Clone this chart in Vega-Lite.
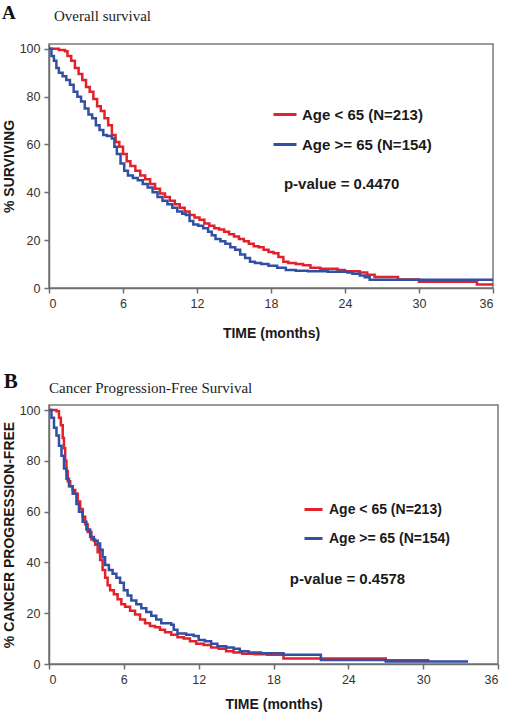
{
  "$schema": "https://vega.github.io/schema/vega-lite/v6.json",
  "padding": {"left": 1, "top": 3, "right": 6, "bottom": 4},
  "spacing": 28,
  "background": "white",
  "config": {
    "view": {"stroke": "#7a7a7a", "strokeWidth": 1.5},
    "axis": {
      "grid": false, "domainColor": "#6e6e6e", "domainWidth": 1.5, "tickColor": "#6e6e6e", "tickWidth": 1.5, "tickSize": 5,
      "labelFont": "Liberation Sans", "labelFontSize": 12.5, "labelColor": "#333333", "labelPadding": 4,
      "titleFont": "Liberation Sans", "titleFontSize": 14, "titleFontWeight": "bold", "titleColor": "#1a1a1a"
    },
    "legend": {
      "orient": "none", "direction": "vertical", "symbolType": "stroke", "symbolStrokeWidth": 3,
      "labelFont": "Liberation Sans", "labelFontWeight": "bold", "labelColor": "#1a1a1a", "padding": 0, "title": null
    }
  },
  "resolve": {"scale": {"color": "independent"}, "legend": {"color": "independent"}},
  "datasets": {
    "survA": [
      {"t":0,"s":100,"g":"Age < 65 (N=213)"},{"t":0.8,"s":99.5,"g":"Age < 65 (N=213)"},{"t":1.3,"s":99,"g":"Age < 65 (N=213)"},{"t":1.5,"s":97,"g":"Age < 65 (N=213)"},{"t":1.8,"s":95,"g":"Age < 65 (N=213)"},{"t":2.1,"s":92,"g":"Age < 65 (N=213)"},{"t":2.4,"s":89.5,"g":"Age < 65 (N=213)"},{"t":2.7,"s":87,"g":"Age < 65 (N=213)"},{"t":3.0,"s":84,"g":"Age < 65 (N=213)"},{"t":3.3,"s":82,"g":"Age < 65 (N=213)"},{"t":3.6,"s":79,"g":"Age < 65 (N=213)"},{"t":3.9,"s":76,"g":"Age < 65 (N=213)"},{"t":4.2,"s":74,"g":"Age < 65 (N=213)"},{"t":4.5,"s":71,"g":"Age < 65 (N=213)"},{"t":4.8,"s":68,"g":"Age < 65 (N=213)"},{"t":5.1,"s":64,"g":"Age < 65 (N=213)"},{"t":5.4,"s":61,"g":"Age < 65 (N=213)"},{"t":5.7,"s":59,"g":"Age < 65 (N=213)"},{"t":6.0,"s":56,"g":"Age < 65 (N=213)"},{"t":6.3,"s":53,"g":"Age < 65 (N=213)"},{"t":6.6,"s":51,"g":"Age < 65 (N=213)"},{"t":7.0,"s":49,"g":"Age < 65 (N=213)"},{"t":7.4,"s":47,"g":"Age < 65 (N=213)"},{"t":7.8,"s":45.5,"g":"Age < 65 (N=213)"},{"t":8.2,"s":43.5,"g":"Age < 65 (N=213)"},{"t":8.6,"s":41.5,"g":"Age < 65 (N=213)"},{"t":9.0,"s":39.5,"g":"Age < 65 (N=213)"},{"t":9.4,"s":38,"g":"Age < 65 (N=213)"},{"t":9.8,"s":36.5,"g":"Age < 65 (N=213)"},{"t":10.2,"s":35,"g":"Age < 65 (N=213)"},{"t":10.6,"s":33.5,"g":"Age < 65 (N=213)"},{"t":11.0,"s":32,"g":"Age < 65 (N=213)"},{"t":11.4,"s":30.5,"g":"Age < 65 (N=213)"},{"t":11.8,"s":29.5,"g":"Age < 65 (N=213)"},{"t":12.2,"s":28.5,"g":"Age < 65 (N=213)"},{"t":12.6,"s":27,"g":"Age < 65 (N=213)"},{"t":13.0,"s":26,"g":"Age < 65 (N=213)"},{"t":13.4,"s":25,"g":"Age < 65 (N=213)"},{"t":13.8,"s":24.5,"g":"Age < 65 (N=213)"},{"t":14.2,"s":23.5,"g":"Age < 65 (N=213)"},{"t":14.6,"s":22.5,"g":"Age < 65 (N=213)"},{"t":15.0,"s":21.5,"g":"Age < 65 (N=213)"},{"t":15.4,"s":20.5,"g":"Age < 65 (N=213)"},{"t":15.8,"s":19.5,"g":"Age < 65 (N=213)"},{"t":16.2,"s":18.5,"g":"Age < 65 (N=213)"},{"t":16.6,"s":17.5,"g":"Age < 65 (N=213)"},{"t":17.0,"s":17,"g":"Age < 65 (N=213)"},{"t":17.4,"s":16,"g":"Age < 65 (N=213)"},{"t":17.8,"s":15,"g":"Age < 65 (N=213)"},{"t":18.2,"s":14.5,"g":"Age < 65 (N=213)"},{"t":18.6,"s":13,"g":"Age < 65 (N=213)"},{"t":19.0,"s":11,"g":"Age < 65 (N=213)"},{"t":19.4,"s":10.5,"g":"Age < 65 (N=213)"},{"t":20.0,"s":10,"g":"Age < 65 (N=213)"},{"t":20.6,"s":9.5,"g":"Age < 65 (N=213)"},{"t":21.2,"s":8.5,"g":"Age < 65 (N=213)"},{"t":22.0,"s":8,"g":"Age < 65 (N=213)"},{"t":23.4,"s":7.5,"g":"Age < 65 (N=213)"},{"t":24.0,"s":7,"g":"Age < 65 (N=213)"},{"t":25.2,"s":6.5,"g":"Age < 65 (N=213)"},{"t":25.8,"s":5.5,"g":"Age < 65 (N=213)"},{"t":26.4,"s":4.6,"g":"Age < 65 (N=213)"},{"t":28.3,"s":3.6,"g":"Age < 65 (N=213)"},{"t":30.0,"s":2.6,"g":"Age < 65 (N=213)"},{"t":34.7,"s":1.5,"g":"Age < 65 (N=213)"},{"t":36,"s":1.5,"g":"Age < 65 (N=213)"},
      {"t":0,"s":100,"g":"Age >= 65 (N=154)"},{"t":0.2,"s":97,"g":"Age >= 65 (N=154)"},{"t":0.4,"s":95,"g":"Age >= 65 (N=154)"},{"t":0.6,"s":92,"g":"Age >= 65 (N=154)"},{"t":0.8,"s":90,"g":"Age >= 65 (N=154)"},{"t":1.1,"s":88.5,"g":"Age >= 65 (N=154)"},{"t":1.4,"s":87,"g":"Age >= 65 (N=154)"},{"t":1.7,"s":85,"g":"Age >= 65 (N=154)"},{"t":2.0,"s":82,"g":"Age >= 65 (N=154)"},{"t":2.3,"s":80,"g":"Age >= 65 (N=154)"},{"t":2.6,"s":78,"g":"Age >= 65 (N=154)"},{"t":2.9,"s":75,"g":"Age >= 65 (N=154)"},{"t":3.2,"s":72.5,"g":"Age >= 65 (N=154)"},{"t":3.5,"s":71,"g":"Age >= 65 (N=154)"},{"t":3.8,"s":68,"g":"Age >= 65 (N=154)"},{"t":4.1,"s":66,"g":"Age >= 65 (N=154)"},{"t":4.4,"s":64,"g":"Age >= 65 (N=154)"},{"t":4.7,"s":63.5,"g":"Age >= 65 (N=154)"},{"t":5.1,"s":62.5,"g":"Age >= 65 (N=154)"},{"t":5.3,"s":59,"g":"Age >= 65 (N=154)"},{"t":5.5,"s":56,"g":"Age >= 65 (N=154)"},{"t":5.8,"s":52,"g":"Age >= 65 (N=154)"},{"t":6.1,"s":49,"g":"Age >= 65 (N=154)"},{"t":6.4,"s":47,"g":"Age >= 65 (N=154)"},{"t":6.8,"s":46,"g":"Age >= 65 (N=154)"},{"t":7.2,"s":45,"g":"Age >= 65 (N=154)"},{"t":7.6,"s":43.5,"g":"Age >= 65 (N=154)"},{"t":8.0,"s":42,"g":"Age >= 65 (N=154)"},{"t":8.4,"s":40,"g":"Age >= 65 (N=154)"},{"t":8.8,"s":38,"g":"Age >= 65 (N=154)"},{"t":9.2,"s":36.5,"g":"Age >= 65 (N=154)"},{"t":9.6,"s":35,"g":"Age >= 65 (N=154)"},{"t":10.0,"s":33.5,"g":"Age >= 65 (N=154)"},{"t":10.4,"s":32,"g":"Age >= 65 (N=154)"},{"t":10.8,"s":31,"g":"Age >= 65 (N=154)"},{"t":11.1,"s":30.5,"g":"Age >= 65 (N=154)"},{"t":11.4,"s":28,"g":"Age >= 65 (N=154)"},{"t":11.7,"s":26.5,"g":"Age >= 65 (N=154)"},{"t":12.1,"s":26,"g":"Age >= 65 (N=154)"},{"t":12.5,"s":25,"g":"Age >= 65 (N=154)"},{"t":12.9,"s":23.5,"g":"Age >= 65 (N=154)"},{"t":13.2,"s":22,"g":"Age >= 65 (N=154)"},{"t":13.5,"s":20.5,"g":"Age >= 65 (N=154)"},{"t":13.9,"s":19.5,"g":"Age >= 65 (N=154)"},{"t":14.3,"s":18.5,"g":"Age >= 65 (N=154)"},{"t":14.7,"s":17,"g":"Age >= 65 (N=154)"},{"t":15.1,"s":16,"g":"Age >= 65 (N=154)"},{"t":15.5,"s":14,"g":"Age >= 65 (N=154)"},{"t":15.9,"s":12.5,"g":"Age >= 65 (N=154)"},{"t":16.3,"s":11,"g":"Age >= 65 (N=154)"},{"t":16.7,"s":10.5,"g":"Age >= 65 (N=154)"},{"t":17.2,"s":10,"g":"Age >= 65 (N=154)"},{"t":17.8,"s":9.3,"g":"Age >= 65 (N=154)"},{"t":18.5,"s":8.5,"g":"Age >= 65 (N=154)"},{"t":19.2,"s":7.5,"g":"Age >= 65 (N=154)"},{"t":20.0,"s":7.2,"g":"Age >= 65 (N=154)"},{"t":21.0,"s":7,"g":"Age >= 65 (N=154)"},{"t":22.6,"s":6.8,"g":"Age >= 65 (N=154)"},{"t":24.2,"s":6.5,"g":"Age >= 65 (N=154)"},{"t":24.6,"s":6,"g":"Age >= 65 (N=154)"},{"t":25.2,"s":5.2,"g":"Age >= 65 (N=154)"},{"t":25.6,"s":4.5,"g":"Age >= 65 (N=154)"},{"t":26.0,"s":3.5,"g":"Age >= 65 (N=154)"},{"t":36,"s":3.5,"g":"Age >= 65 (N=154)"}
    ],
    "survB": [
      {"t":0,"s":100,"g":"Age < 65 (N=213)"},{"t":0.6,"s":99.5,"g":"Age < 65 (N=213)"},{"t":0.8,"s":97,"g":"Age < 65 (N=213)"},{"t":0.95,"s":94,"g":"Age < 65 (N=213)"},{"t":1.1,"s":89,"g":"Age < 65 (N=213)"},{"t":1.2,"s":85,"g":"Age < 65 (N=213)"},{"t":1.3,"s":80,"g":"Age < 65 (N=213)"},{"t":1.4,"s":76,"g":"Age < 65 (N=213)"},{"t":1.5,"s":72,"g":"Age < 65 (N=213)"},{"t":1.7,"s":70,"g":"Age < 65 (N=213)"},{"t":1.9,"s":68.5,"g":"Age < 65 (N=213)"},{"t":2.1,"s":67,"g":"Age < 65 (N=213)"},{"t":2.3,"s":64,"g":"Age < 65 (N=213)"},{"t":2.5,"s":61,"g":"Age < 65 (N=213)"},{"t":2.7,"s":58,"g":"Age < 65 (N=213)"},{"t":2.9,"s":55,"g":"Age < 65 (N=213)"},{"t":3.1,"s":52,"g":"Age < 65 (N=213)"},{"t":3.4,"s":49,"g":"Age < 65 (N=213)"},{"t":3.7,"s":47,"g":"Age < 65 (N=213)"},{"t":3.9,"s":44,"g":"Age < 65 (N=213)"},{"t":4.1,"s":41,"g":"Age < 65 (N=213)"},{"t":4.3,"s":37,"g":"Age < 65 (N=213)"},{"t":4.5,"s":34,"g":"Age < 65 (N=213)"},{"t":4.7,"s":31,"g":"Age < 65 (N=213)"},{"t":4.9,"s":29,"g":"Age < 65 (N=213)"},{"t":5.2,"s":27.5,"g":"Age < 65 (N=213)"},{"t":5.5,"s":25.5,"g":"Age < 65 (N=213)"},{"t":5.8,"s":23.5,"g":"Age < 65 (N=213)"},{"t":6.1,"s":22.5,"g":"Age < 65 (N=213)"},{"t":6.5,"s":21,"g":"Age < 65 (N=213)"},{"t":6.9,"s":19.5,"g":"Age < 65 (N=213)"},{"t":7.3,"s":17.5,"g":"Age < 65 (N=213)"},{"t":7.7,"s":16,"g":"Age < 65 (N=213)"},{"t":8.1,"s":15,"g":"Age < 65 (N=213)"},{"t":8.5,"s":14.5,"g":"Age < 65 (N=213)"},{"t":8.9,"s":13.5,"g":"Age < 65 (N=213)"},{"t":9.3,"s":12.5,"g":"Age < 65 (N=213)"},{"t":9.8,"s":11.5,"g":"Age < 65 (N=213)"},{"t":10.3,"s":10.5,"g":"Age < 65 (N=213)"},{"t":10.8,"s":10,"g":"Age < 65 (N=213)"},{"t":11.3,"s":9,"g":"Age < 65 (N=213)"},{"t":11.8,"s":8,"g":"Age < 65 (N=213)"},{"t":12.4,"s":7.5,"g":"Age < 65 (N=213)"},{"t":13.0,"s":6.5,"g":"Age < 65 (N=213)"},{"t":13.6,"s":6,"g":"Age < 65 (N=213)"},{"t":14.2,"s":5,"g":"Age < 65 (N=213)"},{"t":14.8,"s":4.5,"g":"Age < 65 (N=213)"},{"t":15.5,"s":4,"g":"Age < 65 (N=213)"},{"t":16.5,"s":3.8,"g":"Age < 65 (N=213)"},{"t":17.5,"s":3.6,"g":"Age < 65 (N=213)"},{"t":18.8,"s":2.2,"g":"Age < 65 (N=213)"},{"t":27.0,"s":1.5,"g":"Age < 65 (N=213)"},{"t":30.5,"s":1.5,"g":"Age < 65 (N=213)"},
      {"t":0,"s":100,"g":"Age >= 65 (N=154)"},{"t":0.2,"s":97,"g":"Age >= 65 (N=154)"},{"t":0.4,"s":93,"g":"Age >= 65 (N=154)"},{"t":0.6,"s":90,"g":"Age >= 65 (N=154)"},{"t":0.8,"s":86,"g":"Age >= 65 (N=154)"},{"t":1.0,"s":82,"g":"Age >= 65 (N=154)"},{"t":1.2,"s":77,"g":"Age >= 65 (N=154)"},{"t":1.4,"s":73,"g":"Age >= 65 (N=154)"},{"t":1.6,"s":70,"g":"Age >= 65 (N=154)"},{"t":1.9,"s":67,"g":"Age >= 65 (N=154)"},{"t":2.2,"s":63,"g":"Age >= 65 (N=154)"},{"t":2.4,"s":60,"g":"Age >= 65 (N=154)"},{"t":2.7,"s":56,"g":"Age >= 65 (N=154)"},{"t":3.0,"s":53,"g":"Age >= 65 (N=154)"},{"t":3.3,"s":50,"g":"Age >= 65 (N=154)"},{"t":3.6,"s":48.5,"g":"Age >= 65 (N=154)"},{"t":3.9,"s":47.5,"g":"Age >= 65 (N=154)"},{"t":4.1,"s":45,"g":"Age >= 65 (N=154)"},{"t":4.3,"s":42,"g":"Age >= 65 (N=154)"},{"t":4.5,"s":39,"g":"Age >= 65 (N=154)"},{"t":4.8,"s":37,"g":"Age >= 65 (N=154)"},{"t":5.1,"s":35.5,"g":"Age >= 65 (N=154)"},{"t":5.4,"s":34,"g":"Age >= 65 (N=154)"},{"t":5.7,"s":32,"g":"Age >= 65 (N=154)"},{"t":6.0,"s":29,"g":"Age >= 65 (N=154)"},{"t":6.3,"s":27,"g":"Age >= 65 (N=154)"},{"t":6.6,"s":25,"g":"Age >= 65 (N=154)"},{"t":7.0,"s":23.5,"g":"Age >= 65 (N=154)"},{"t":7.4,"s":22,"g":"Age >= 65 (N=154)"},{"t":7.8,"s":20.5,"g":"Age >= 65 (N=154)"},{"t":8.2,"s":19,"g":"Age >= 65 (N=154)"},{"t":8.6,"s":17.5,"g":"Age >= 65 (N=154)"},{"t":9.0,"s":16,"g":"Age >= 65 (N=154)"},{"t":9.8,"s":15.5,"g":"Age >= 65 (N=154)"},{"t":10.0,"s":13.5,"g":"Age >= 65 (N=154)"},{"t":10.3,"s":12,"g":"Age >= 65 (N=154)"},{"t":11.0,"s":11.5,"g":"Age >= 65 (N=154)"},{"t":11.6,"s":11,"g":"Age >= 65 (N=154)"},{"t":12.0,"s":9.5,"g":"Age >= 65 (N=154)"},{"t":12.5,"s":9,"g":"Age >= 65 (N=154)"},{"t":13.0,"s":8,"g":"Age >= 65 (N=154)"},{"t":13.5,"s":7,"g":"Age >= 65 (N=154)"},{"t":14.2,"s":6.5,"g":"Age >= 65 (N=154)"},{"t":14.8,"s":6,"g":"Age >= 65 (N=154)"},{"t":15.3,"s":5,"g":"Age >= 65 (N=154)"},{"t":16.0,"s":4.5,"g":"Age >= 65 (N=154)"},{"t":17.0,"s":4.2,"g":"Age >= 65 (N=154)"},{"t":18.8,"s":3.6,"g":"Age >= 65 (N=154)"},{"t":21.8,"s":1.6,"g":"Age >= 65 (N=154)"},{"t":27.0,"s":1.0,"g":"Age >= 65 (N=154)"},{"t":33.6,"s":1.0,"g":"Age >= 65 (N=154)"}
    ]
  },
  "vconcat": [
    {
      "width": 444, "height": 244,
      "layer": [
        {
          "data": {"name": "survA"},
          "mark": {"type": "line", "interpolate": "step-after", "strokeWidth": 2.5},
          "encoding": {
            "x": {"field": "t", "type": "quantitative", "title": "TIME (months)", "scale": {"domain": [0, 36], "nice": false, "zero": false}, "axis": {"values": [0, 6, 12, 18, 24, 30, 36], "titlePadding": 17}},
            "y": {"field": "s", "type": "quantitative", "title": "% SURVIVING", "scale": {"domain": [0, 102], "nice": false}, "axis": {"values": [0, 20, 40, 60, 80, 100], "titlePadding": 3}},
            "color": {"field": "g", "type": "nominal", "scale": {"domain": ["Age < 65 (N=213)", "Age >= 65 (N=154)"], "range": ["#e3212b", "#3150a3"]},
              "legend": {"legendX": 223, "legendY": 57.5, "symbolSize": 529, "labelFontSize": 15, "rowPadding": 9, "labelOffset": 4}}
          }
        },
        {
          "data": {"values": [{"t": -3.25, "s": 115, "label": "A"}]},
          "mark": {"type": "text", "font": "Liberation Serif", "fontWeight": "bold", "fontSize": 19, "align": "center", "baseline": "middle", "color": "#111111"},
          "encoding": {"x": {"field": "t", "type": "quantitative"}, "y": {"field": "s", "type": "quantitative"}, "text": {"field": "label"}}
        },
        {
          "data": {"values": [{"t": 0.4, "s": 113.8, "label": "Overall survival"}]},
          "mark": {"type": "text", "font": "Liberation Serif", "fontSize": 15, "align": "left", "baseline": "middle", "color": "#222222"},
          "encoding": {"x": {"field": "t", "type": "quantitative"}, "y": {"field": "s", "type": "quantitative"}, "text": {"field": "label"}}
        },
        {
          "data": {"values": [{"t": 19.05, "s": 43.5, "label": "p-value = 0.4470"}]},
          "mark": {"type": "text", "font": "Liberation Sans", "fontWeight": "bold", "fontSize": 15, "align": "left", "baseline": "middle", "color": "#1a1a1a"},
          "encoding": {"x": {"field": "t", "type": "quantitative"}, "y": {"field": "s", "type": "quantitative"}, "text": {"field": "label"}}
        }
      ]
    },
    {
      "width": 449, "height": 259,
      "layer": [
        {
          "data": {"name": "survB"},
          "mark": {"type": "line", "interpolate": "step-after", "strokeWidth": 2.5},
          "encoding": {
            "x": {"field": "t", "type": "quantitative", "title": "TIME (months)", "scale": {"domain": [0, 36], "nice": false, "zero": false}, "axis": {"values": [0, 6, 12, 18, 24, 30, 36], "titlePadding": 12}},
            "y": {"field": "s", "type": "quantitative", "title": "% CANCER PROGRESSION-FREE", "scale": {"domain": [0, 102], "nice": false}, "axis": {"values": [0, 20, 40, 60, 80, 100], "titlePadding": 3}},
            "color": {"field": "g", "type": "nominal", "scale": {"domain": ["Age < 65 (N=213)", "Age >= 65 (N=154)"], "range": ["#e3212b", "#3150a3"]},
              "legend": {"legendX": 254, "legendY": 94, "symbolSize": 324, "labelFontSize": 14, "rowPadding": 11, "labelOffset": 5}}
          }
        },
        {
          "data": {"values": [{"t": -3.06, "s": 110.9, "label": "B"}]},
          "mark": {"type": "text", "font": "Liberation Serif", "fontWeight": "bold", "fontSize": 21, "align": "center", "baseline": "middle", "color": "#111111"},
          "encoding": {"x": {"field": "t", "type": "quantitative"}, "y": {"field": "s", "type": "quantitative"}, "text": {"field": "label"}}
        },
        {
          "data": {"values": [{"t": 0.0, "s": 108.7, "label": "Cancer Progression-Free Survival"}]},
          "mark": {"type": "text", "font": "Liberation Serif", "fontSize": 15, "align": "left", "baseline": "middle", "color": "#222222"},
          "encoding": {"x": {"field": "t", "type": "quantitative"}, "y": {"field": "s", "type": "quantitative"}, "text": {"field": "label"}}
        },
        {
          "data": {"values": [{"t": 19.3, "s": 33.6, "label": "p-value = 0.4578"}]},
          "mark": {"type": "text", "font": "Liberation Sans", "fontWeight": "bold", "fontSize": 15, "align": "left", "baseline": "middle", "color": "#1a1a1a"},
          "encoding": {"x": {"field": "t", "type": "quantitative"}, "y": {"field": "s", "type": "quantitative"}, "text": {"field": "label"}}
        }
      ]
    }
  ]
}
